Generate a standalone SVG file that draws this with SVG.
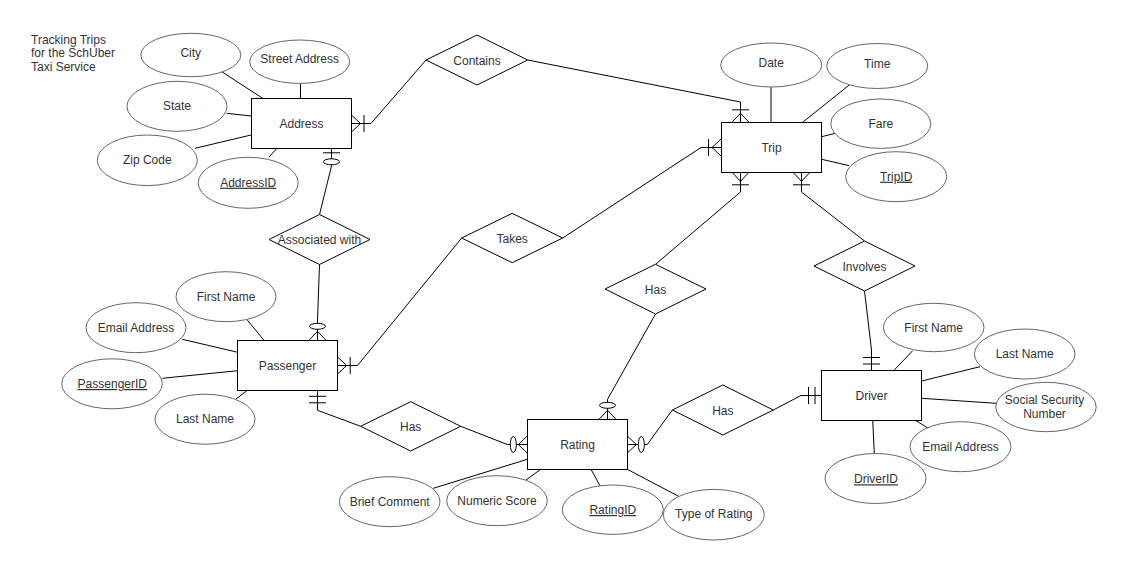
<svg xmlns="http://www.w3.org/2000/svg" width="1122" height="566" viewBox="0 0 1122 566">
<defs>
<style>
text{font-family:"Liberation Sans",Arial,sans-serif;font-size:12px;fill:#333;text-anchor:middle}
.t{text-anchor:start}
.u{text-decoration:underline}
.ent{fill:#fff;stroke:#000;stroke-width:1}
.att{fill:#fff;stroke:#666;stroke-width:1}
.rel{fill:#fff;stroke:#000;stroke-width:1}
.ln{fill:none;stroke:#000;stroke-width:1}
.mk{fill:none;stroke:#000;stroke-width:1}
.mo{fill:#fff;stroke:#000;stroke-width:1}
</style>
<marker id="oneMany" markerUnits="userSpaceOnUse" orient="auto" viewBox="-20 -10 30 20" refX="0" refY="0" markerWidth="30" markerHeight="20" overflow="visible">
<path class="mk" d="M0,-8.5 L-9,0 L0,8.5 M-12.5,-8.5 L-12.5,8.5"/>
</marker>
<marker id="zeroMany" markerUnits="userSpaceOnUse" orient="auto" viewBox="-20 -10 30 20" refX="0" refY="0" markerWidth="30" markerHeight="20" overflow="visible">
<path class="mk" d="M0,-8.5 L-9,0 L0,8.5"/>
<ellipse class="mo" cx="-14" cy="0" rx="3" ry="8"/>
</marker>
<marker id="zeroOne" markerUnits="userSpaceOnUse" orient="auto" viewBox="-20 -10 30 20" refX="0" refY="0" markerWidth="30" markerHeight="20" overflow="visible">
<path class="mk" d="M-4.5,-8.5 L-4.5,8.5"/>
<ellipse class="mo" cx="-13.5" cy="0" rx="3" ry="8"/>
</marker>
<marker id="mandOne" markerUnits="userSpaceOnUse" orient="auto" viewBox="-20 -10 30 20" refX="0" refY="0" markerWidth="30" markerHeight="20" overflow="visible">
<path class="mk" d="M-6,-8.5 L-6,8.5 M-12.5,-8.5 L-12.5,8.5"/>
</marker>
</defs>
<rect width="1122" height="566" fill="#fff"/>

<text class="t" x="31" y="43.5">Tracking Trips</text>
<text class="t" x="31" y="57">for the SchUber</text>
<text class="t" x="31" y="70.5">Taxi Service</text>

<g id="connectors">
<!-- attribute lines -->
<line class="ln" x1="221.7" y1="71.7" x2="262.7" y2="98.3"/>
<line class="ln" x1="300.5" y1="83.3" x2="300.5" y2="98.3"/>
<line class="ln" x1="226.7" y1="113.3" x2="251" y2="116"/>
<line class="ln" x1="195" y1="148.3" x2="251" y2="135"/>
<line class="ln" x1="268.7" y1="157.3" x2="277" y2="148.3"/>
<line class="ln" x1="771" y1="87" x2="771" y2="122.3"/>
<line class="ln" x1="849.3" y1="85" x2="802.7" y2="122.3"/>
<line class="ln" x1="835" y1="133.3" x2="821.7" y2="136.7"/>
<line class="ln" x1="821.7" y1="159.3" x2="849.3" y2="165.7"/>
<line class="ln" x1="246.7" y1="319.3" x2="264" y2="340.3"/>
<line class="ln" x1="182.3" y1="339.3" x2="237.7" y2="352.3"/>
<line class="ln" x1="162.3" y1="378.3" x2="237.7" y2="370.7"/>
<line class="ln" x1="236" y1="399" x2="247.3" y2="390.3"/>
<line class="ln" x1="433.3" y1="488.3" x2="527.3" y2="459.3"/>
<line class="ln" x1="526" y1="480" x2="540.7" y2="469.3"/>
<line class="ln" x1="591" y1="469.3" x2="600" y2="485.7"/>
<line class="ln" x1="627.3" y1="469.3" x2="679.3" y2="496.7"/>
<line class="ln" x1="912.7" y1="350.7" x2="894.3" y2="370"/>
<line class="ln" x1="980" y1="366.7" x2="921.7" y2="381"/>
<line class="ln" x1="921.7" y1="398.3" x2="996" y2="403.3"/>
<line class="ln" x1="915" y1="420" x2="928.3" y2="428.3"/>
<line class="ln" x1="872.7" y1="420" x2="874.3" y2="453.3"/>
<!-- relationship lines -->
<path class="ln" d="M426,60 L371,123.5 L351.5,123.5" marker-end="url(#oneMany)"/>
<path class="ln" d="M527.7,60 L740.5,102 L740.5,122.3" marker-end="url(#oneMany)"/>
<path class="ln" d="M562.7,238 L701,147.5 L721,147.5" marker-end="url(#oneMany)"/>
<path class="ln" d="M461.7,238 L357.5,365.5 L337.7,365.5" marker-end="url(#oneMany)"/>
<path class="ln" d="M655.5,264.3 L740.5,192 L740.5,172.3" marker-end="url(#oneMany)"/>
<path class="ln" d="M864.5,241 L801.5,192 L801.5,172.3" marker-end="url(#oneMany)"/>
<path class="ln" d="M319.5,214.5 L331.5,166 L331.5,148.3" marker-end="url(#zeroOne)"/>
<path class="ln" d="M319.5,264.5 L317.5,320 L317.5,340.3" marker-end="url(#zeroMany)"/>
<path class="ln" d="M360.7,426.3 L317.5,410.3 L317.5,390.3" marker-end="url(#mandOne)"/>
<path class="ln" d="M460.7,426.3 L507.3,444.5 L527.3,444.5" marker-end="url(#zeroMany)"/>
<path class="ln" d="M655.5,314 L607.5,399.3 L607.5,419.3" marker-end="url(#zeroMany)"/>
<path class="ln" d="M672.3,410 L647.3,444.5 L627.3,444.5" marker-end="url(#zeroMany)"/>
<path class="ln" d="M773.3,410 L801,395.5 L821,395.5" marker-end="url(#mandOne)"/>
<path class="ln" d="M864.5,291 L871.5,350 L871.5,370" marker-end="url(#mandOne)"/>
</g>

<!-- Entities -->
<g id="address"><rect class="ent" x="251.5" y="98.5" width="100" height="50"/><text x="301.5" y="127.5">Address</text></g>
<g id="trip"><rect class="ent" x="721.5" y="122.5" width="100" height="50"/><text x="771.5" y="151.5">Trip</text></g>
<g id="passenger"><rect class="ent" x="237.5" y="340.5" width="100" height="50"/><text x="287.5" y="369.5">Passenger</text></g>
<g id="rating"><rect class="ent" x="527.5" y="419.5" width="100" height="50"/><text x="577.5" y="448.5">Rating</text></g>
<g id="driver"><rect class="ent" x="821.5" y="370.5" width="100" height="50"/><text x="871.5" y="399.5">Driver</text></g>

<!-- Relationships -->
<g id="contains"><polygon class="rel" points="426,60 477,35 527.7,60 477,85"/><text x="477" y="64.5">Contains</text></g>
<g id="takes"><polygon class="rel" points="461.7,238 512.2,213.3 562.7,238 512.2,262.7"/><text x="512.2" y="242.5">Takes</text></g>
<g id="associated"><polygon class="rel" points="269,239.5 319.5,214.5 370,239.5 319.5,264.5"/><text x="319.5" y="243.5">Associated with</text></g>
<g id="has-trip-rating"><polygon class="rel" points="605,289 655.5,264.3 706,289 655.5,314"/><text x="655.5" y="294">Has</text></g>
<g id="involves"><polygon class="rel" points="814,266 864.5,241 915,266 864.5,291"/><text x="864.5" y="270.5">Involves</text></g>
<g id="has-passenger-rating"><polygon class="rel" points="360.7,426.3 410.7,401.7 460.7,426.3 410.7,451"/><text x="410.7" y="430.5">Has</text></g>
<g id="has-rating-driver"><polygon class="rel" points="672.3,410 722.8,385 773.3,410 722.8,435"/><text x="722.8" y="414.5">Has</text></g>

<!-- Attributes -->
<g id="city"><ellipse class="att" cx="190.8" cy="55" rx="50" ry="21.7"/><text x="190.8" y="56.8">City</text></g>
<g id="street-address"><ellipse class="att" cx="299.7" cy="61.7" rx="50" ry="21.7"/><text x="299.7" y="63">Street Address</text></g>
<g id="state"><ellipse class="att" cx="177" cy="106.3" rx="50" ry="25"/><text x="177" y="110">State</text></g>
<g id="zip-code"><ellipse class="att" cx="147.3" cy="160.3" rx="50" ry="25.3"/><text x="147.3" y="163.5">Zip Code</text></g>
<g id="address-id"><ellipse class="att" cx="248.2" cy="182.8" rx="50" ry="25.5"/><text class="u" x="248.2" y="186.7">AddressID</text></g>
<g id="date"><ellipse class="att" cx="771.2" cy="65" rx="50.5" ry="22"/><text x="771.2" y="67">Date</text></g>
<g id="time"><ellipse class="att" cx="877.2" cy="66" rx="50.5" ry="22.5"/><text x="877.2" y="67.5">Time</text></g>
<g id="fare"><ellipse class="att" cx="880.8" cy="123.7" rx="50" ry="24.7"/><text x="880.8" y="128">Fare</text></g>
<g id="trip-id"><ellipse class="att" cx="896.2" cy="176.7" rx="50.5" ry="25"/><text class="u" x="896.2" y="180.7">TripID</text></g>
<g id="p-first-name"><ellipse class="att" cx="226" cy="296.7" rx="50" ry="25"/><text x="226" y="300.7">First Name</text></g>
<g id="p-email"><ellipse class="att" cx="136" cy="327.7" rx="50" ry="25"/><text x="136" y="331.7">Email Address</text></g>
<g id="passenger-id"><ellipse class="att" cx="112" cy="383.8" rx="50.3" ry="25"/><text class="u" x="112.3" y="388">PassengerID</text></g>
<g id="p-last-name"><ellipse class="att" cx="205" cy="419.2" rx="50" ry="25"/><text x="205" y="423">Last Name</text></g>
<g id="brief-comment"><ellipse class="att" cx="389.7" cy="501.7" rx="50.3" ry="25"/><text x="389.7" y="505.7">Brief Comment</text></g>
<g id="numeric-score"><ellipse class="att" cx="497" cy="500.7" rx="50.3" ry="25"/><text x="497" y="504.5">Numeric Score</text></g>
<g id="rating-id"><ellipse class="att" cx="612.8" cy="509.7" rx="50.5" ry="24.7"/><text class="u" x="612.8" y="514">RatingID</text></g>
<g id="type-of-rating"><ellipse class="att" cx="713.8" cy="514.7" rx="50.5" ry="25.3"/><text x="713.8" y="517.5">Type of Rating</text></g>
<g id="d-first-name"><ellipse class="att" cx="933.7" cy="327.5" rx="50.3" ry="24.2"/><text x="933.7" y="331.7">First Name</text></g>
<g id="d-last-name"><ellipse class="att" cx="1024.7" cy="354" rx="50.3" ry="25"/><text x="1024.7" y="357.7">Last Name</text></g>
<g id="ssn"><ellipse class="att" cx="1046" cy="407" rx="50.2" ry="24.7"/><text x="1044.5" y="404">Social Security</text><text x="1044.5" y="417.7">Number</text></g>
<g id="d-email"><ellipse class="att" cx="960.5" cy="446.7" rx="50.5" ry="25"/><text x="960.5" y="450.7">Email Address</text></g>
<g id="driver-id"><ellipse class="att" cx="875.5" cy="478.5" rx="50.5" ry="25"/><text class="u" x="876" y="483.3">DriverID</text></g>
</svg>
